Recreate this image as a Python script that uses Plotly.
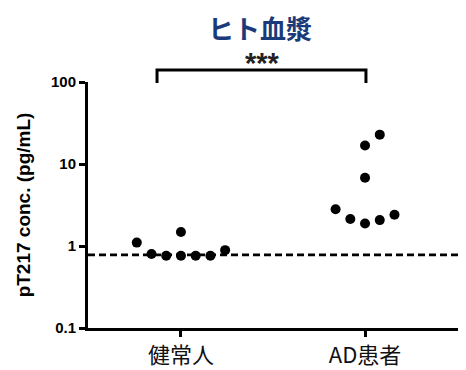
import plotly.graph_objects as go

categories = ["健常人", "AD患者"]
category_pos = [1, 2]
y_ticks = [0.1, 1, 10, 100]
y_tick_labels = ["0.1", "1", "10", "100"]

healthy_x = [0.76, 0.84, 0.92, 1.0, 1.0, 1.08, 1.16, 1.24]
healthy_y = [1.1, 0.8, 0.76, 1.48, 0.76, 0.76, 0.76, 0.89]

ad_x = [1.84, 1.92, 2.0, 2.08, 2.16, 2.0, 2.0, 2.08]
ad_y = [2.8, 2.13, 1.88, 2.07, 2.4, 6.8, 16.8, 22.8]

cutoff = 0.78

fig = go.Figure()
fig.add_trace(go.Scatter(x=healthy_x, y=healthy_y, mode="markers",
                         marker=dict(color="black", size=10), showlegend=False))
fig.add_trace(go.Scatter(x=ad_x, y=ad_y, mode="markers",
                         marker=dict(color="black", size=10), showlegend=False))

fig.add_shape(type="line", xref="paper", yref="y", x0=0, x1=1, y0=cutoff, y1=cutoff,
              line=dict(color="black", width=2.6, dash="7px,4px"), layer="below")

# significance bracket
fig.add_shape(type="path", xref="x", yref="paper",
              path="M 0.87 0.996 L 0.87 1.049 L 2.005 1.049 L 2.005 0.996",
              line=dict(color="black", width=3))
fig.add_annotation(x=1.445, y=1.078, xref="x", yref="paper", text="<b>***</b>", showarrow=False,
                   yanchor="middle", font=dict(size=29, color="#222", family="Liberation Sans"))

fig.update_layout(
    width=458, height=362,
    margin=dict(l=80, r=8, t=74, b=42),
    paper_bgcolor="white", plot_bgcolor="white",
    title=dict(text="<b>ヒト血漿</b>", x=0.55, xanchor="center", y=0.94, yanchor="middle",
               font=dict(size=26, color="#1b3a7a", family="Noto Sans CJK JP")),
    xaxis=dict(range=[0.495, 2.505], tickvals=category_pos, ticktext=categories,
               showline=True, linewidth=3, linecolor="black", ticks="outside",
               ticklen=6, tickwidth=3, tickcolor="black", showgrid=False, zeroline=False,
               automargin=False,
               tickfont=dict(size=22, color="#111", family="Noto Sans CJK JP")),
    yaxis=dict(type="log", range=[-1, 2], tickvals=y_ticks,
               ticktext=["<b>%s</b>" % t for t in y_tick_labels],
               showline=True, linewidth=3, linecolor="black", ticks="outside",
               ticklen=6, tickwidth=3, tickcolor="black", showgrid=False, zeroline=False,
               automargin=False,
               tickfont=dict(size=15, color="black", family="Liberation Sans"),
               title=dict(text="<b>pT217 conc. (pg/mL)</b>", standoff=16,
                          font=dict(size=19, color="black", family="Liberation Sans"))),
)

fig.write_html("out.html")
